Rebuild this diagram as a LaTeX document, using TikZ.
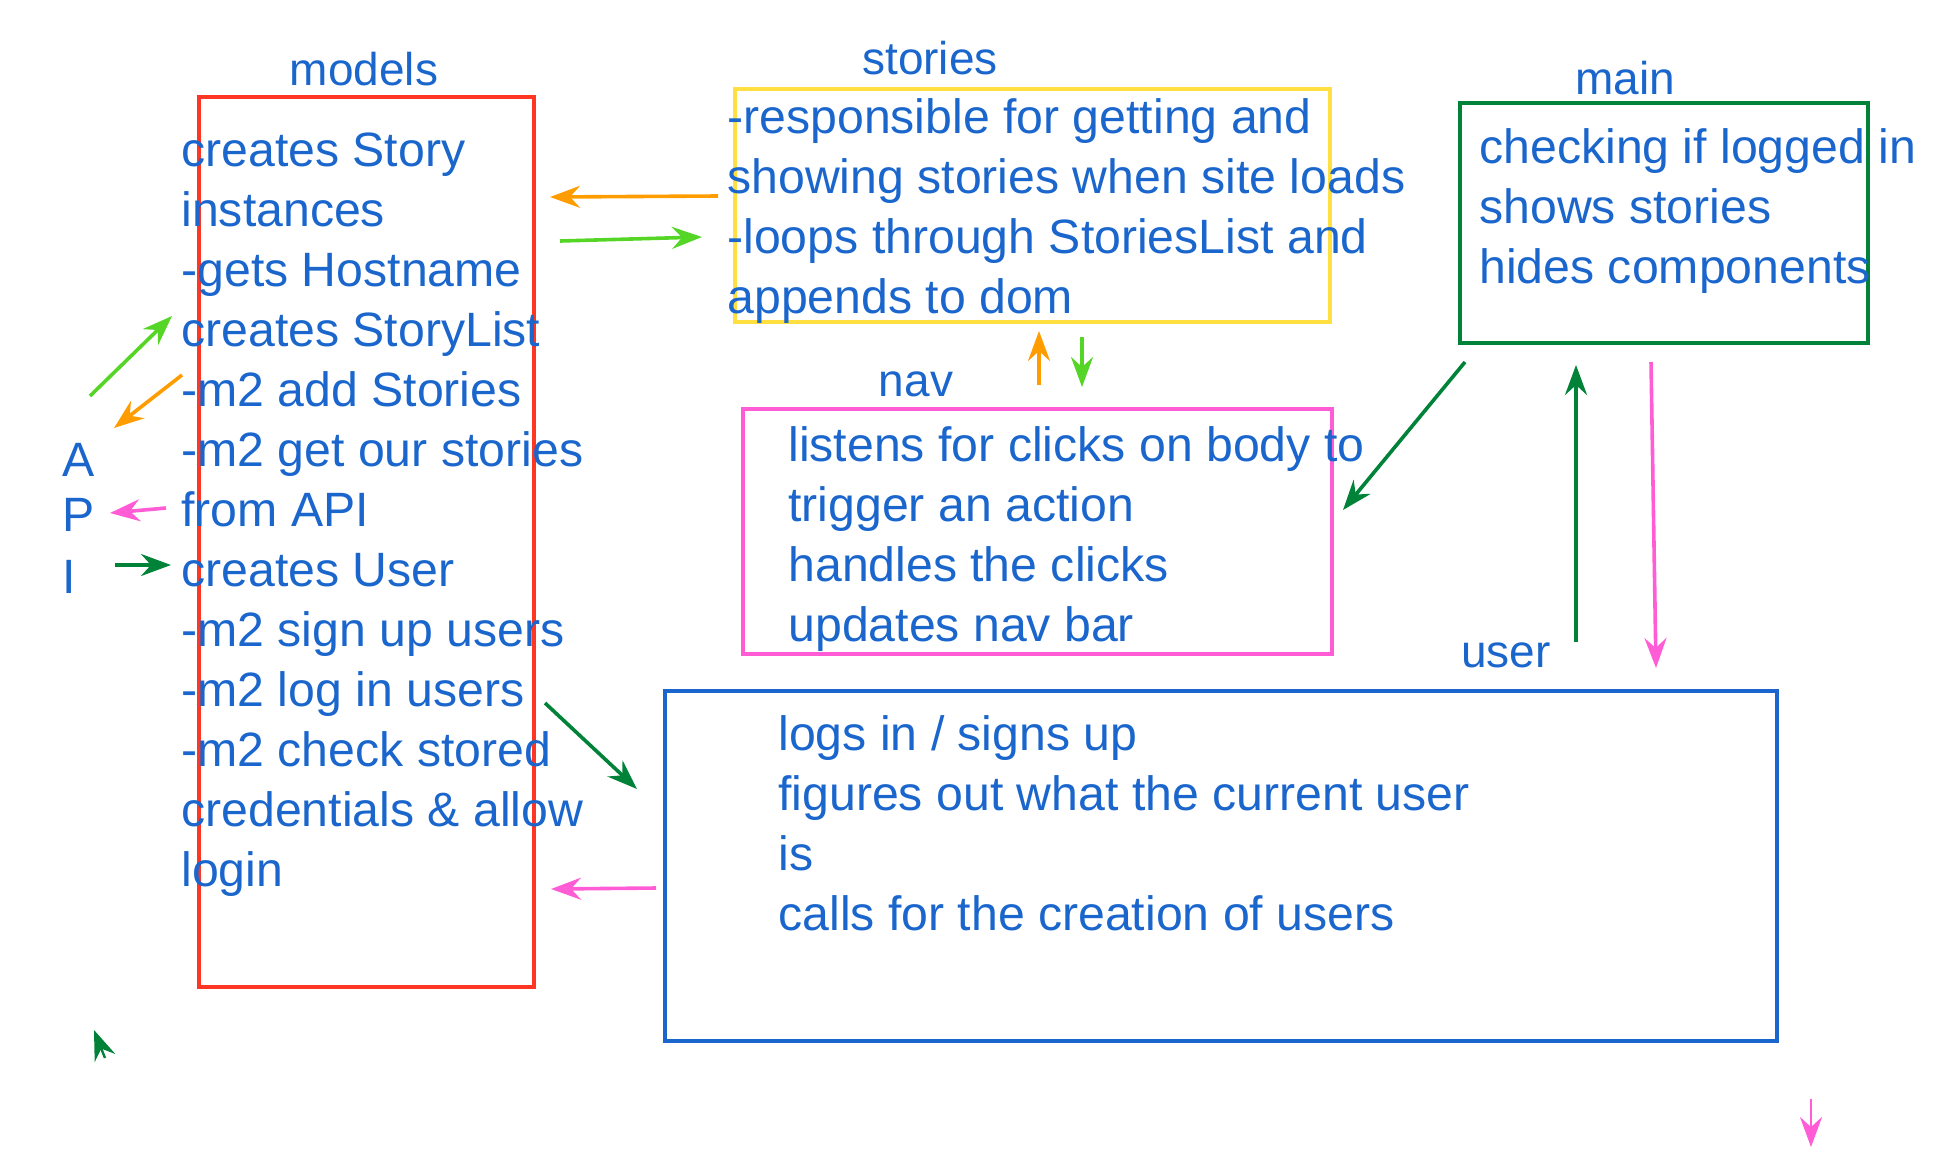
\documentclass[tikz,border=0pt]{standalone}
\usepackage{fontspec}
\setmainfont{Liberation Sans}
\usetikzlibrary{arrows.meta}
\definecolor{txt}{RGB}{26,102,204}
\definecolor{cred}{RGB}{255,54,36}
\definecolor{cyel}{RGB}{255,224,64}
\definecolor{cdgreen}{RGB}{0,130,56}
\definecolor{cpink}{RGB}{255,92,214}
\definecolor{cblue}{RGB}{26,102,204}
\definecolor{corange}{RGB}{255,157,0}
\definecolor{clgreen}{RGB}{85,214,38}
\tikzset{
  bodytext/.style={anchor=base west, align=left, inner sep=0pt, text=txt, font=\fontsize{24.1pt}{30pt}\selectfont},
  headtext/.style={anchor=base, inner sep=0pt, text=txt, font=\fontsize{23pt}{28pt}\selectfont},
  boxnode/.style={draw, line width=1.9pt, inner sep=0pt, anchor=north west},
  arr/.style={line width=1.8pt, -{Stealth[length=15pt,width=11pt,inset=5pt]}}
}
\begin{document}
\begin{tikzpicture}[x=0.5pt,y=-0.5pt]
\useasboundingbox (0,0) rectangle (1958,1168);

% boxes
\node[boxnode, draw=cred, minimum width=167.5pt, minimum height=445pt] (models) at (197,95) {};
\node[boxnode, draw=cyel, minimum width=297.5pt, minimum height=116.5pt] (stories) at (733,87) {};
\node[boxnode, draw=cdgreen, minimum width=204pt, minimum height=120pt] (main) at (1458,101) {};
\node[boxnode, draw=cpink, minimum width=294.5pt, minimum height=122.5pt] (nav) at (741,407) {};
\node[boxnode, draw=cblue, minimum width=556pt, minimum height=175pt] (user) at (663,689) {};

% headings
\node[headtext] (hmodels) at (364,85) {models};
\node[headtext] (hstories) at (930,74) {stories};
\node[headtext] (hmain) at (1625,94) {main};
\node[headtext] (hnav) at (916,396) {nav};
\node[headtext] (huser) at (1506,667) {user};

% texts (anchored at the baseline of their last line)
\node[bodytext] (tmodels) at (181,886) {creates Story\\instances\\-gets Hostname\\creates StoryList\\-m2 add Stories\\-m2 get our stories\\from API\\creates User\\-m2 sign up users\\-m2 log in users\\-m2 check stored\\credentials \& allow\\login};
\node[bodytext] (tstories) at (727,313) {-responsible for getting and\\showing stories when site loads\\-loops through StoriesList and\\appends to dom};
\node[bodytext] (tmain) at (1479,283) {checking if logged in\\shows stories\\hides components};
\node[bodytext] (tnav) at (788,641) {listens for clicks on body to\\trigger an action\\handles the clicks\\updates nav bar};
\node[bodytext] (tuser) at (778,930) {logs in / signs up\\figures out what the current user\\is\\calls for the creation of users};
\node[bodytext] (tA) at (62,476) {A};
\node[bodytext] (tP) at (62,531) {P};
\node[bodytext] (tI) at (62,593) {I};

% connector end points
\coordinate (s1a) at (718,196); \coordinate (s1b) at (550,197);
\coordinate (s2a) at (560,241); \coordinate (s2b) at (702,237);
\coordinate (a1a) at (90,396);  \coordinate (a1b) at (172,316);
\coordinate (a2a) at (182,375); \coordinate (a2b) at (114,428);
\coordinate (a3a) at (166,508); \coordinate (a3b) at (110,513);
\coordinate (a4a) at (115,565); \coordinate (a4b) at (171,565);
\coordinate (u1a) at (545,703); \coordinate (u1b) at (637,789);
\coordinate (u2a) at (656,888); \coordinate (u2b) at (551,889);
\coordinate (n1a) at (1039,385); \coordinate (n1b) at (1039,331);
\coordinate (n2a) at (1082,337); \coordinate (n2b) at (1082,387);
\coordinate (m1a) at (1465,362); \coordinate (m1b) at (1343,510);
\coordinate (m2a) at (1576,642); \coordinate (m2b) at (1576,365);
\coordinate (m3a) at (1651,362); \coordinate (m3b) at (1656,668);
\coordinate (x1a) at (105,1058); \coordinate (x1b) at (94,1030);
\coordinate (x2a) at (1811,1099); \coordinate (x2b) at (1811,1147);

% connectors
\draw[arr, corange] (s1a) -- (s1b);
\draw[arr, clgreen] (s2a) -- (s2b);
\draw[arr, clgreen] (a1a) -- (a1b);
\draw[arr, corange] (a2a) -- (a2b);
\draw[arr, cpink] (a3a) -- (a3b);
\draw[arr, cdgreen] (a4a) -- (a4b);
\draw[arr, cdgreen] (u1a) -- (u1b);
\draw[arr, cpink] (u2a) -- (u2b);
\draw[arr, corange] (n1a) -- (n1b);
\draw[arr, clgreen] (n2a) -- (n2b);
\draw[arr, cdgreen] (m1a) -- (m1b);
\draw[arr, cdgreen] (m2a) -- (m2b);
\draw[arr, cpink] (m3a) -- (m3b);
\draw[arr, cdgreen, line width=1.2pt] (x1a) -- (x1b);
\draw[arr, cpink, line width=1.2pt] (x2a) -- (x2b);
\end{tikzpicture}
\end{document}
